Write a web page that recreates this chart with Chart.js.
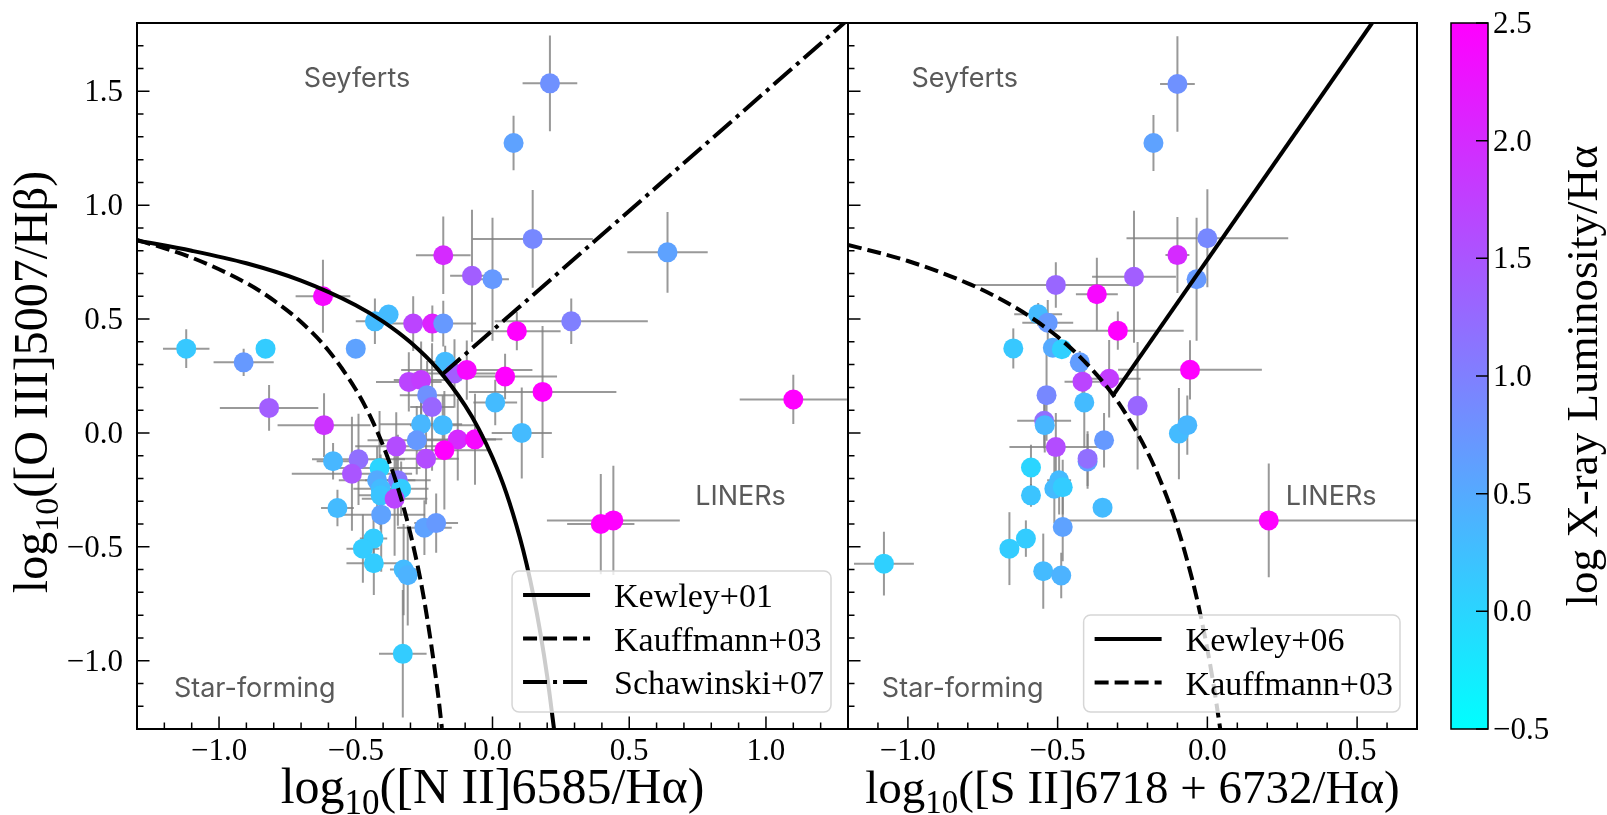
<!DOCTYPE html>
<html>
<head>
<meta charset="utf-8">
<title>BPT diagrams</title>
<script src="https://cdn.jsdelivr.net/npm/chart.js@4.4.1/dist/chart.umd.min.js"></script>
<style>
  html, body { margin: 0; padding: 0; background: #fff; }
  #fig { position: relative; width: 1607px; height: 815px; }
  #fig canvas { position: absolute; left: 0; top: 0; }
</style>
</head>
<body>
<div id="fig">
  <canvas id="nii" width="1607" height="815"></canvas>
  <canvas id="sii" width="1607" height="815"></canvas>
  <canvas id="cbar" width="1607" height="815"></canvas>
</div>
<script>
// [N II] BPT panel: log [N II]/Ha, log [O III]/Hb, errors, colour = log Lx/Ha
const niiX = [-0.62, -1.12, -0.91, -0.83, -0.50, -0.43, -0.38, -0.29, -0.22, -0.18,
  -0.18, -0.075, 0.0, 0.21, 0.077, 0.147, 0.64, 0.288, 0.089, 0.046,
  0.183, 0.01, 0.107, 1.10, 0.396, 0.442, -0.173, -0.139, -0.094, -0.306,
  -0.261, -0.239, -0.221, -0.616, -0.261, -0.182, -0.277, -0.127, -0.064, -0.176,
  -0.352, -0.243, -0.583, -0.49, -0.514, -0.413, -0.422, -0.346, -0.334, -0.409,
  -0.409, -0.358, -0.567, -0.407, -0.249, -0.206, -0.435, -0.474, -0.434, -0.325,
  -0.31, -0.328, -0.817];
const niiY = [0.60, 0.37, 0.31, 0.37, 0.37, 0.49, 0.52, 0.48, 0.48, 0.48,
  0.78, 0.69, 0.675, 1.535, 1.273, 0.852, 0.793, 0.49, 0.447, 0.248,
  0.18, 0.134, 0.0, 0.147, -0.40, -0.384, 0.313, 0.261, 0.276, 0.224,
  0.232, 0.166, 0.114, 0.034, 0.038, 0.034, -0.032, -0.029, -0.028, -0.076,
  -0.059, -0.113, -0.124, -0.116, -0.179, -0.154, -0.208, -0.208, -0.245, -0.245,
  -0.274, -0.289, -0.33, -0.359, -0.416, -0.396, -0.464, -0.508, -0.572, -0.60,
  -0.625, -0.97, 0.11];
const niiXErr = [0.10, 0.085, 0.11, 0.03, 0, 0.07, 0.03, 0.10, 0.05, 0.12,
  0.10, 0.08, 0.06, 0.10, 0.035, 0.22, 0.147, 0.28, 0.16, 0.19,
  0.27, 0.08, 0.11, 0.196, 0.123, 0.243, 0.05, 0.15, 0.24, 0.12,
  0.10, 0.10, 0.08, 0.17, 0.15, 0.12, 0.18, 0.14, 0.10, 0.17,
  0.15, 0.12, 0.06, 0.17, 0.22, 0.15, 0.14, 0.12, 0.10, 0.10,
  0.08, 0.12, 0.06, 0.16, 0.10, 0.08, 0.05, 0.06, 0.10, 0.05,
  0.04, 0.087, 0.18];
const niiYErr = [0.16, 0.085, 0.06, 0.02, 0, 0.10, 0.03, 0.12, 0.08, 0.10,
  0.17, 0.29, 0.27, 0.21, 0.12, 0.215, 0.177, 0.10, 0.084, 0.10,
  0.29, 0.10, 0.20, 0.108, 0.22, 0.24, 0.07, 0.15, 0.13, 0.13,
  0.17, 0.15, 0.28, 0.14, 0.10, 0.13, 0.15, 0.18, 0.20, 0.26,
  0.15, 0.20, 0.08, 0.20, 0.25, 0.25, 0.15, 0.20, 0.12, 0.15,
  0.15, 0.25, 0.08, 0.25, 0.12, 0.13, 0.10, 0.15, 0.14, 0.20,
  0.22, 0.28, 0.10];
const niiLx = [2.4, 0.15, 0.7, 0.1, 0.6, 0.3, 0.3, 1.7, 2.1, 0.7,
  2.0, 1.4, 0.7, 0.8, 0.6, 0.9, 0.6, 1.0, 2.5, 2.5,
  2.5, 0.3, 0.3, 2.5, 2.5, 2.5, 0.3, 1.4, 2.4, 1.7,
  1.8, 0.8, 1.3, 1.9, 0.35, 0.3, 0.7, 2.0, 2.4, 2.5,
  1.6, 1.6, 0.35, 1.2, 1.5, 0.0, 0.5, 1.1, 0.1, 0.3,
  0.2, 1.7, 0.3, 0.6, 0.6, 0.7, 0.1, 0.1, 0.1, 0.3,
  0.4, 0.1, 1.4];

// [S II] BPT panel
const siiX = [-0.10, -0.18, 0.0, -0.10, -0.245, -0.036, -0.506, -0.369, -0.299, -0.058,
  -0.565, -0.533, -0.648, -0.516, -0.486, -0.426, -0.417, -0.328, -0.411, -0.233,
  -0.537, -0.545, -0.543, -0.095, -0.067, -0.506, -0.345, -0.40, -0.40, -0.589,
  -0.495, -0.511, -0.483, -0.589, -0.35, -0.483, -0.606, -0.661, -1.08, -0.548,
  -0.488, 0.205];
const siiY = [1.532, 1.273, 0.855, 0.781, 0.686, 0.675, 0.65, 0.609, 0.449, 0.277,
  0.521, 0.484, 0.371, 0.374, 0.368, 0.31, 0.225, 0.238, 0.134, 0.119,
  0.166, 0.053, 0.034, -0.003, 0.034, -0.062, -0.032, -0.125, -0.113, -0.152,
  -0.208, -0.245, -0.238, -0.274, -0.328, -0.413, -0.464, -0.508, -0.574, -0.607,
  -0.626, -0.384];
const siiXErr = [0.058, 0.02, 0.27, 0.04, 0.14, 0.02, 0.27, 0.07, 0.22, 0.24,
  0.08, 0.085, 0, 0, 0.02, 0.03, 0.06, 0.105, 0.03, 0.02,
  0.02, 0.09, 0.02, 0.02, 0.02, 0.155, 0.02, 0.02, 0.02, 0.02,
  0.04, 0.02, 0.02, 0.02, 0, 0.02, 0, 0, 0.10, 0,
  0, 0.69];
const siiYErr = [0.21, 0.123, 0.215, 0.167, 0.29, 0.27, 0.10, 0.16, 0.084, 0.13,
  0.05, 0.10, 0.088, 0, 0.02, 0.05, 0.08, 0.17, 0.20, 0.28,
  0.20, 0.12, 0.12, 0.20, 0.13, 0.15, 0.12, 0.12, 0.12, 0.10,
  0.15, 0.15, 0.12, 0.05, 0, 0.15, 0.08, 0.16, 0.14, 0.165,
  0.10, 0.25];
const siiLx = [0.8, 0.6, 0.9, 2.0, 1.4, 0.7, 1.3, 2.4, 2.5, 2.5,
  0.3, 0.7, 0.15, 0.5, 0.05, 0.65, 1.7, 1.8, 0.3, 1.3,
  0.9, 1.2, 0.35, 0.3, 0.35, 1.6, 0.7, 0.6, 1.2, 0.0,
  0.3, 0.3, 0.1, 0.2, 0.3, 0.6, 0.1, 0.1, 0.05, 0.3,
  0.4, 2.5];

// demarcation lines
const kew01X = [-1.3, -1.1, -0.9, -0.7, -0.5, -0.4, -0.3, -0.2, -0.1, -0.05, 0.0, 0.05, 0.1, 0.125, 0.15, 0.175, 0.2, 0.225];
const kew01Y = [0.845, 0.80, 0.745, 0.669, 0.561, 0.489, 0.398, 0.280, 0.120, 0.017, -0.108, -0.262, -0.459, -0.578, -0.716, -0.878, -1.069, -1.30];
const kau03X = [-1.3, -1.1, -0.9, -0.8, -0.7, -0.6, -0.5, -0.45, -0.4, -0.35, -0.3, -0.25, -0.2, -0.185];
const kau03Y = [0.848, 0.770, 0.658, 0.582, 0.487, 0.362, 0.191, 0.080, -0.056, -0.225, -0.443, -0.733, -1.140, -1.296];
const sch07X = [-0.183, 1.3];
const sch07Y = [0.258, 1.815];
const kew06X = [-0.315, 0.55];
const kew06Y = [0.165, 1.80];
const kauS2X = [-1.2, -1.0, -0.8, -0.7, -0.6, -0.5, -0.4, -0.3, -0.2, -0.15, -0.1, -0.05, -0.025, 0.0, 0.02, 0.043];
const kauS2Y = [0.826, 0.755, 0.657, 0.594, 0.517, 0.422, 0.300, 0.139, -0.085, -0.232, -0.414, -0.646, -0.787, -0.950, -1.10, -1.30];

// axes
const o3Min = -1.3, o3Max = 1.8;
const o3Ticks = [-1.0, -0.5, 0.0, 0.5, 1.0, 1.5];
const niiMin = -1.3, niiMax = 1.3;
const niiTicks = [-1.0, -0.5, 0.0, 0.5, 1.0];
const siiMin = -1.2, siiMax = 0.7;
const siiTicks = [-1.0, -0.5, 0.0, 0.5];
const cbMin = -0.5, cbMax = 2.5;
const cbTicks = [-0.5, 0.0, 0.5, 1.0, 1.5, 2.0, 2.5];
const regionNames = ['Seyferts', 'Star-forming', 'LINERs'];

const SERIF = '"Liberation Serif", "Times New Roman", serif';
const SANS = 'Inter, "Open Sans", sans-serif';

function fmt(v) { return (v < 0 ? '\u2212' : '') + Math.abs(v).toFixed(1); }

// matplotlib "cool" colormap
function cool(v) {
  const t = Math.min(1, Math.max(0, (v - cbMin) / (cbMax - cbMin)));
  return 'rgb(' + Math.round(255 * t) + ',' + Math.round(255 * (1 - t)) + ',255)';
}

function pts(xs, ys) { return xs.map((x, i) => ({ x: x, y: ys[i] })); }

function curve(label, xs, ys, dash) {
  return {
    label: label, data: pts(xs, ys), showLine: true,
    borderColor: '#000', borderWidth: 4, borderDash: dash, borderCapStyle: 'butt',
    pointRadius: 0, pointHoverRadius: 0, cubicInterpolationMode: 'monotone', clip: 0
  };
}

function galaxies(xs, ys, lx) {
  return {
    data: pts(xs, ys), pointRadius: 10, pointHoverRadius: 10, pointBorderWidth: 0,
    pointBackgroundColor: lx.map(cool), borderColor: 'rgba(0,0,0,0)'
  };
}

// label like log_10(...)
function logTitle(ctx, rest, cx, cy, size, rot) {
  const big = size + 'px ' + SERIF, small = Math.round(size * 0.7) + 'px ' + SERIF;
  ctx.save();
  ctx.translate(cx, cy);
  ctx.rotate(rot);
  ctx.font = big;
  const w1 = ctx.measureText('log').width, w3 = ctx.measureText(rest).width;
  ctx.font = small;
  const w2 = ctx.measureText('10').width;
  const x0 = -(w1 + w2 + w3) / 2;
  ctx.fillStyle = '#000';
  ctx.textAlign = 'left';
  ctx.textBaseline = 'alphabetic';
  ctx.font = big; ctx.fillText('log', x0, 0);
  ctx.font = small; ctx.fillText('10', x0 + w1, size * 0.22);
  ctx.font = big; ctx.fillText(rest, x0 + w1 + w2, 0);
  ctx.restore();
}

function minors(min, max) {
  const out = [];
  for (let k = Math.ceil(min * 10 + 1e-6); k <= Math.floor(max * 10 - 1e-6); k++) out.push(k / 10);
  return out;
}

function decor(cfg) {
  return {
    id: 'decor',
    beforeDatasetsDraw(chart) {
      const { ctx, chartArea: a, scales: { x, y } } = chart;
      ctx.save();
      ctx.beginPath();
      ctx.rect(a.left, a.top, a.width, a.height);
      ctx.clip();
      ctx.strokeStyle = 'rgba(128,128,128,0.8)';
      ctx.lineWidth = 2;
      cfg.xs.forEach((xv, i) => {
        const yv = cfg.ys[i];
        const px = x.getPixelForValue(xv), py = y.getPixelForValue(yv);
        ctx.beginPath();
        if (cfg.ex[i]) {
          ctx.moveTo(x.getPixelForValue(xv - cfg.ex[i]), py);
          ctx.lineTo(x.getPixelForValue(xv + cfg.ex[i]), py);
        }
        if (cfg.ey[i]) {
          ctx.moveTo(px, y.getPixelForValue(yv - cfg.ey[i]));
          ctx.lineTo(px, y.getPixelForValue(yv + cfg.ey[i]));
        }
        ctx.stroke();
      });
      ctx.restore();
    },
    afterDatasetsDraw(chart) {
      const { ctx, scales: { x, y } } = chart;
      ctx.save();
      ctx.fillStyle = '#5a5a5a';
      ctx.font = '27px ' + SANS;
      ctx.textAlign = 'left';
      ctx.textBaseline = 'alphabetic';
      regionNames.forEach((name, i) => {
        ctx.fillText(name, x.getPixelForValue(cfg.regionX[i]), y.getPixelForValue(cfg.regionY[i]));
      });
      ctx.restore();
    },
    afterDraw(chart) {
      const { ctx, chartArea: a, scales: { x, y } } = chart;
      ctx.save();
      ctx.strokeStyle = '#000';
      // ticks (inward, bottom and left)
      ctx.lineWidth = 1.5;
      ctx.beginPath();
      minors(x.min, x.max).forEach(v => {
        const px = x.getPixelForValue(v);
        const len = cfg.xTicks.some(t => Math.abs(t - v) < 1e-6) ? 12.5 : 6.5;
        ctx.moveTo(px, a.bottom); ctx.lineTo(px, a.bottom - len);
      });
      minors(y.min, y.max).forEach(v => {
        const py = y.getPixelForValue(v);
        const len = o3Ticks.some(t => Math.abs(t - v) < 1e-6) ? 12.5 : 6.5;
        ctx.moveTo(a.left, py); ctx.lineTo(a.left + len, py);
      });
      ctx.stroke();
      // frame
      ctx.lineWidth = 2;
      ctx.strokeRect(a.left, a.top, a.width, a.height);
      // tick labels
      ctx.fillStyle = '#000';
      ctx.font = '31px ' + SERIF;
      ctx.textBaseline = 'alphabetic';
      ctx.textAlign = 'center';
      cfg.xTicks.forEach(v => ctx.fillText(fmt(v), x.getPixelForValue(v), a.bottom + 31));
      if (cfg.yLabels) {
        ctx.textAlign = 'right';
        o3Ticks.forEach(v => ctx.fillText(fmt(v), a.left - 14, y.getPixelForValue(v) + 10));
      }
      ctx.restore();
      // axis titles
      logTitle(ctx, cfg.xTitle, (a.left + a.right) / 2, 803, cfg.xTitleSize, 0);
      if (cfg.yTitle) logTitle(ctx, cfg.yTitle, 47, (a.top + a.bottom) / 2 + 6, 48, -Math.PI / 2);
      // legend, lower right
      const items = chart.data.datasets.filter(d => d.showLine);
      ctx.save();
      ctx.font = '34px ' + SERIF;
      const tw = Math.max(...items.map(d => ctx.measureText(d.label).width));
      const bw = 11 + 67 + 24 + tw + 7, bh = 44 * items.length + 9;
      const bx = a.right - 17 - bw, by = a.bottom - 17 - bh;
      ctx.beginPath();
      ctx.roundRect(bx, by, bw, bh, 7);
      ctx.fillStyle = 'rgba(255,255,255,0.8)';
      ctx.fill();
      ctx.strokeStyle = '#d6d6d6';
      ctx.lineWidth = 1.5;
      ctx.stroke();
      items.forEach((d, i) => {
        const ry = by + 24 + i * 43.5;
        ctx.beginPath();
        ctx.setLineDash(d.borderDash || []);
        ctx.strokeStyle = '#000';
        ctx.lineWidth = d.borderWidth;
        ctx.lineCap = 'butt';
        ctx.moveTo(bx + 11, ry); ctx.lineTo(bx + 78, ry);
        ctx.stroke();
        ctx.setLineDash([]);
        ctx.fillStyle = '#000';
        ctx.textAlign = 'left';
        ctx.textBaseline = 'alphabetic';
        ctx.fillText(d.label, bx + 102, ry + 12);
      });
      ctx.restore();
    }
  };
}

function panelOptions(padding, xMin, xMax) {
  return {
    responsive: false, animation: false, events: [], devicePixelRatio: 1,
    layout: { padding: padding },
    scales: {
      x: { type: 'linear', display: false, min: xMin, max: xMax },
      y: { type: 'linear', display: false, min: o3Min, max: o3Max }
    },
    plugins: { legend: { display: false }, tooltip: { enabled: false } }
  };
}

new Chart(document.getElementById('nii'), {
  type: 'scatter',
  data: {
    datasets: [
      curve('Kewley+01', kew01X, kew01Y, []),
      curve('Kauffmann+03', kau03X, kau03Y, [14, 6]),
      curve('Schawinski+07', sch07X, sch07Y, [24, 6, 4, 6]),
      galaxies(niiX, niiY, niiLx)
    ]
  },
  options: panelOptions({ left: 137, top: 23, right: 759, bottom: 86 }, niiMin, niiMax),
  plugins: [decor({
    xs: niiX, ys: niiY, ex: niiXErr, ey: niiYErr,
    xTicks: niiTicks, yLabels: true,
    xTitle: '([N II]6585/H\u03b1)', xTitleSize: 50, yTitle: '([O III]5007/H\u03b2)',
    regionX: [-0.69, -1.165, 0.741], regionY: [1.52, -1.16, -0.316]
  })]
});

new Chart(document.getElementById('sii'), {
  type: 'scatter',
  data: {
    datasets: [
      curve('Kewley+06', kew06X, kew06Y, []),
      curve('Kauffmann+03', kauS2X, kauS2Y, [14, 6]),
      galaxies(siiX, siiY, siiLx)
    ]
  },
  options: panelOptions({ left: 848, top: 23, right: 190, bottom: 86 }, siiMin, siiMax),
  plugins: [decor({
    xs: siiX, ys: siiY, ex: siiXErr, ey: siiYErr,
    xTicks: siiTicks, yLabels: false,
    xTitle: '([S II]6718 + 6732/H\u03b1)', xTitleSize: 47, yTitle: null,
    regionX: [-0.988, -1.087, 0.262], regionY: [1.52, -1.16, -0.316]
  })]
});

// colour bar
new Chart(document.getElementById('cbar'), {
  type: 'scatter',
  data: { datasets: [] },
  options: {
    responsive: false, animation: false, events: [], devicePixelRatio: 1,
    layout: { padding: { left: 1451, top: 23, right: 119, bottom: 86 } },
    scales: {
      x: { type: 'linear', display: false, min: 0, max: 1 },
      y: { type: 'linear', display: false, min: cbMin, max: cbMax }
    },
    plugins: { legend: { display: false }, tooltip: { enabled: false } }
  },
  plugins: [{
    id: 'colorbar',
    afterDraw(chart) {
      const { ctx, chartArea: a, scales: { y } } = chart;
      ctx.save();
      const g = ctx.createLinearGradient(0, y.getPixelForValue(cbMin), 0, y.getPixelForValue(cbMax));
      g.addColorStop(0, cool(cbMin));
      g.addColorStop(1, cool(cbMax));
      ctx.fillStyle = g;
      ctx.fillRect(a.left, a.top, a.width, a.height);
      ctx.strokeStyle = '#000';
      ctx.lineWidth = 1.5;
      ctx.beginPath();
      cbTicks.forEach(v => {
        const py = y.getPixelForValue(v);
        ctx.moveTo(a.right, py); ctx.lineTo(a.right - 12, py);
      });
      ctx.stroke();
      ctx.strokeRect(a.left, a.top, a.width, a.height);
      ctx.fillStyle = '#000';
      ctx.font = '31px ' + SERIF;
      ctx.textAlign = 'left';
      ctx.textBaseline = 'alphabetic';
      cbTicks.forEach(v => ctx.fillText(fmt(v), a.right + 5, y.getPixelForValue(v) + 10));
      ctx.translate(1597, (a.top + a.bottom) / 2);
      ctx.rotate(-Math.PI / 2);
      ctx.font = '45px ' + SERIF;
      ctx.textAlign = 'center';
      ctx.fillText('log X-ray Luminosity/H\u03b1', 0, 0);
      ctx.restore();
    }
  }]
});
</script>
</body>
</html>
